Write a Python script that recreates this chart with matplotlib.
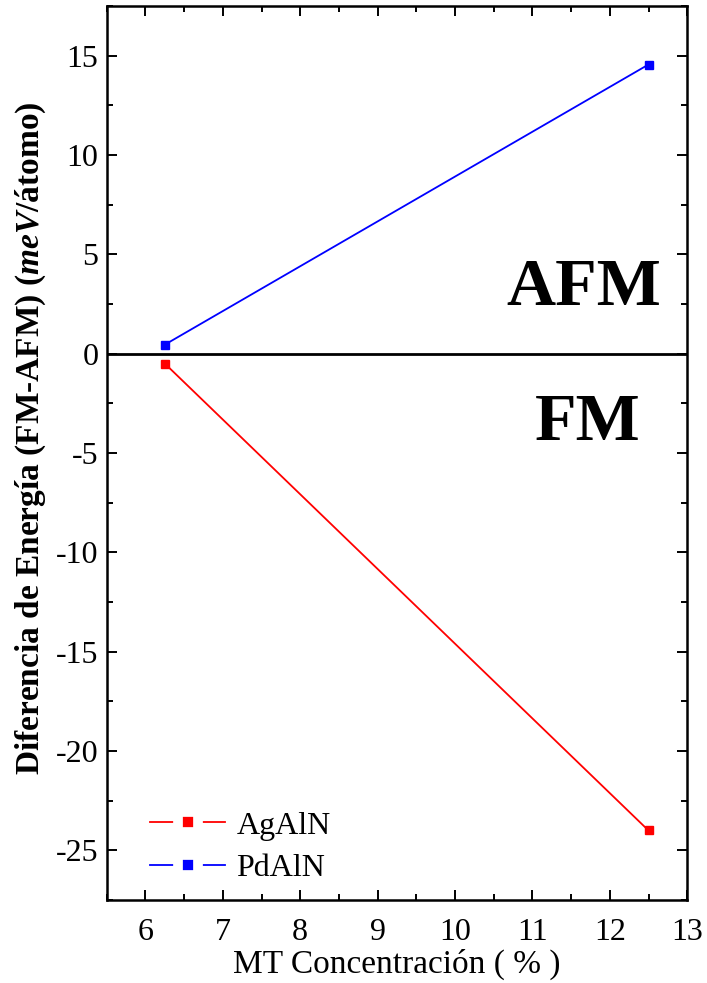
import matplotlib
matplotlib.use("Agg")
import matplotlib.pyplot as plt
from matplotlib.ticker import MultipleLocator

# concentracion (%) vs diferencia de energia FM-AFM (meV/atomo)
conc = [6.25, 12.5]
ag_aln = [-0.5, -24.0]
pd_aln = [0.45, 14.55]

plt.rcParams["font.family"] = ["Liberation Serif", "DejaVu Serif"]
plt.rcParams["axes.unicode_minus"] = False
plt.rcParams["mathtext.fontset"] = "custom"
plt.rcParams["mathtext.rm"] = "Liberation Serif"
plt.rcParams["mathtext.it"] = "Liberation Serif:italic"
plt.rcParams["mathtext.bf"] = "Liberation Serif:bold"
plt.rcParams["mathtext.bfit"] = "Liberation Serif:bold:italic"

fig = plt.figure(figsize=(7.07, 9.83), dpi=100)
ax = fig.add_axes([0.151, 0.0844, 0.821, 0.9096])

ax.axhline(0, color="black", lw=2, zorder=1)
ax.plot(conc, ag_aln, color="red", lw=1.3, marker="s", ms=6, label="AgAlN")
ax.plot(conc, pd_aln, color="blue", lw=1.3, marker="s", ms=6, label="PdAlN")

ax.set_xlim(5.5, 13)
ax.set_ylim(-27.5, 17.5)
ax.xaxis.set_major_locator(MultipleLocator(1))
ax.xaxis.set_minor_locator(MultipleLocator(0.5))
ax.yaxis.set_major_locator(MultipleLocator(5))
ax.yaxis.set_minor_locator(MultipleLocator(2.5))
ax.tick_params(which="both", direction="in", top=True, right=True,
               width=1.4, labelsize=23)
ax.tick_params(which="major", length=7)
ax.tick_params(which="minor", length=4)
ax.tick_params(axis="x", which="major", pad=13)
ax.tick_params(axis="y", which="major", pad=6)
for s in ax.spines.values():
    s.set_linewidth(1.8)

ax.text(11.66, 3.3, "AFM", fontsize=49, fontweight="bold", ha="center", va="center")
ax.text(11.72, -3.5, "FM", fontsize=49, fontweight="bold", ha="center", va="center")

ax.set_xlabel("MT Concentración ( % )", fontsize=24, labelpad=1)
ax.set_ylabel(r"Diferencia de Energía (FM-AFM) ($\mathbfit{meV}$/átomo)",
              fontsize=24, fontweight="bold")
ax.yaxis.set_label_coords(-0.101, 0.516)

leg = ax.legend(loc="lower left", frameon=False, fontsize=23,
                handlelength=2.35, handletextpad=0.35, labelspacing=0.4,
                bbox_to_anchor=(0.053, 0.005), borderaxespad=0)
# gap between the line and the marker, as in the original legend
for h in leg.legend_handles:
    h.set_markersize(14)
    h.set_markeredgecolor("white")
    h.set_markeredgewidth(7)

fig.savefig("out.png", dpi=100)
